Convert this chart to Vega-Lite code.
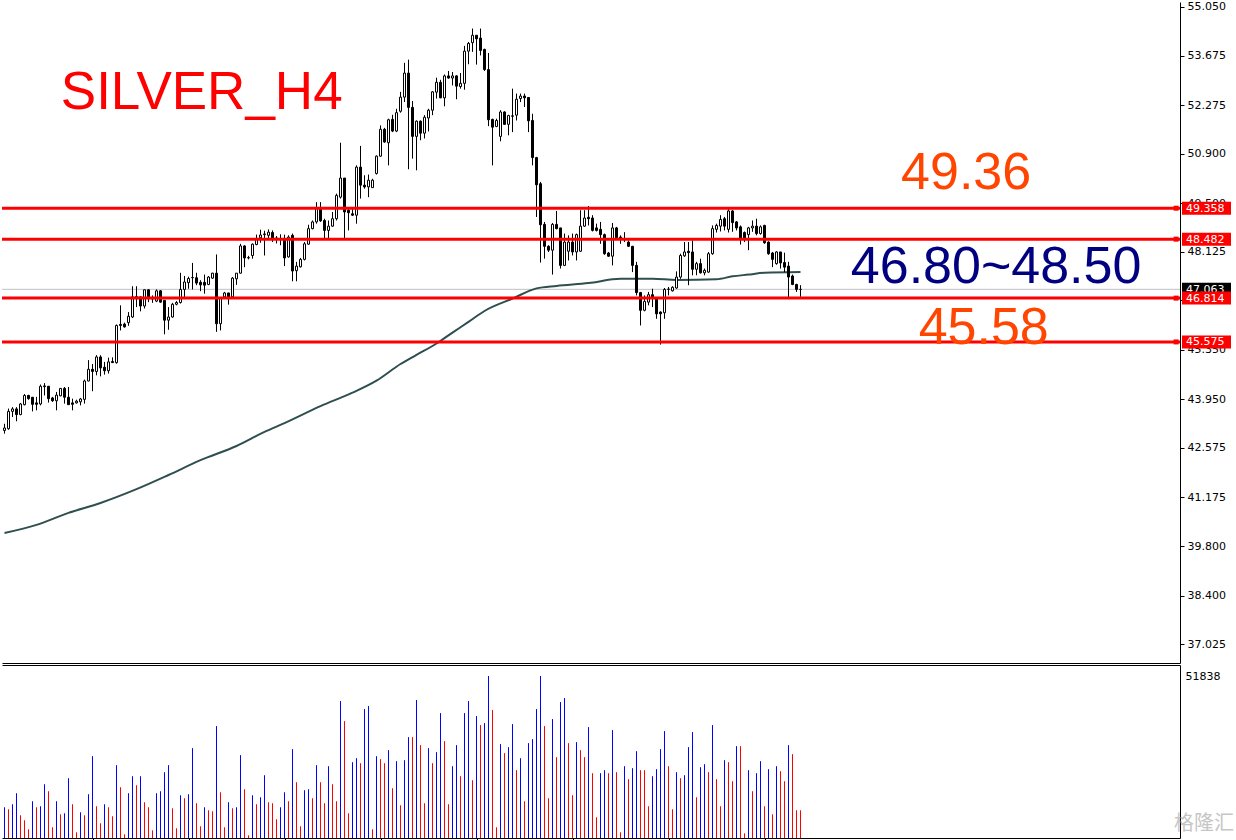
{
  "$schema": "https://vega.github.io/schema/vega-lite/v6.json",
  "padding": 0,
  "background": "#ffffff",
  "spacing": 2,
  "bounds": "flush",
  "config": {
    "view": {"stroke": null},
    "axis": {
      "labelFont": "DejaVu Sans",
      "labelFontSize": 11,
      "labelColor": "#000000",
      "domainColor": "#000000",
      "tickColor": "#000000",
      "grid": false,
      "zindex": 0,
      "labelFlush": false,
      "labelOverlap": false
    }
  },
  "datasets": {
    "candles": [
      {"k":0,"o":43.07,"h":43.26,"l":42.98,"c":43.14},
      {"k":1,"o":43.12,"h":43.69,"l":43.09,"c":43.61},
      {"k":2,"o":43.61,"h":43.73,"l":43.45,"c":43.68},
      {"k":3,"o":43.68,"h":43.73,"l":43.33,"c":43.52},
      {"k":4,"o":43.52,"h":43.85,"l":43.50,"c":43.82},
      {"k":5,"o":43.80,"h":44.10,"l":43.78,"c":44.06},
      {"k":6,"o":44.06,"h":44.08,"l":43.94,"c":43.97},
      {"k":7,"o":44.01,"h":44.01,"l":43.61,"c":43.81},
      {"k":8,"o":43.85,"h":44.02,"l":43.64,"c":43.81},
      {"k":9,"o":43.82,"h":44.37,"l":43.78,"c":44.32},
      {"k":10,"o":44.33,"h":44.41,"l":44.06,"c":44.31},
      {"k":11,"o":44.32,"h":44.33,"l":43.86,"c":43.97},
      {"k":12,"o":43.99,"h":44.02,"l":43.88,"c":43.91},
      {"k":13,"o":43.91,"h":44.16,"l":43.64,"c":44.07},
      {"k":14,"o":44.05,"h":44.26,"l":44.04,"c":44.26},
      {"k":15,"o":44.26,"h":44.30,"l":43.83,"c":44.01},
      {"k":16,"o":44.01,"h":44.30,"l":43.80,"c":43.80},
      {"k":17,"o":43.85,"h":43.97,"l":43.64,"c":43.81},
      {"k":18,"o":43.85,"h":43.94,"l":43.83,"c":43.90},
      {"k":19,"o":43.88,"h":43.99,"l":43.78,"c":43.96},
      {"k":20,"o":43.95,"h":44.51,"l":43.83,"c":44.47},
      {"k":21,"o":44.47,"h":45.06,"l":44.46,"c":44.80},
      {"k":22,"o":44.80,"h":44.95,"l":44.18,"c":44.74},
      {"k":23,"o":44.74,"h":45.20,"l":44.63,"c":45.15},
      {"k":24,"o":45.15,"h":45.20,"l":44.60,"c":44.84},
      {"k":25,"o":44.86,"h":45.01,"l":44.65,"c":44.76},
      {"k":26,"o":44.76,"h":45.13,"l":44.68,"c":45.01},
      {"k":27,"o":45.02,"h":45.14,"l":44.98,"c":44.99},
      {"k":28,"o":44.99,"h":46.07,"l":44.96,"c":46.04},
      {"k":29,"o":46.07,"h":46.61,"l":45.90,"c":46.04},
      {"k":30,"o":46.08,"h":46.12,"l":45.98,"c":46.00},
      {"k":31,"o":46.12,"h":46.42,"l":46.03,"c":46.30},
      {"k":32,"o":46.28,"h":47.15,"l":46.25,"c":46.85},
      {"k":33,"o":46.80,"h":47.15,"l":46.56,"c":46.86},
      {"k":34,"o":46.85,"h":46.85,"l":46.44,"c":46.59},
      {"k":35,"o":46.59,"h":47.06,"l":46.52,"c":47.05},
      {"k":36,"o":47.05,"h":47.06,"l":46.70,"c":46.80},
      {"k":37,"o":46.81,"h":46.89,"l":46.68,"c":46.79},
      {"k":38,"o":46.73,"h":47.06,"l":46.70,"c":47.02},
      {"k":39,"o":47.02,"h":47.04,"l":46.69,"c":46.70},
      {"k":40,"o":46.75,"h":46.75,"l":45.79,"c":46.19},
      {"k":41,"o":46.19,"h":46.56,"l":45.92,"c":46.28},
      {"k":42,"o":46.28,"h":46.68,"l":46.26,"c":46.64},
      {"k":43,"o":46.64,"h":46.73,"l":46.61,"c":46.69},
      {"k":44,"o":46.69,"h":47.53,"l":46.66,"c":47.06},
      {"k":45,"o":47.06,"h":47.44,"l":46.80,"c":47.27},
      {"k":46,"o":47.25,"h":47.42,"l":47.08,"c":47.37},
      {"k":47,"o":47.39,"h":47.81,"l":47.06,"c":47.40},
      {"k":48,"o":47.39,"h":47.53,"l":47.18,"c":47.24},
      {"k":49,"o":47.26,"h":47.32,"l":47.01,"c":47.19},
      {"k":50,"o":47.26,"h":47.48,"l":46.94,"c":47.18},
      {"k":51,"o":47.20,"h":47.44,"l":47.18,"c":47.41},
      {"k":52,"o":47.38,"h":47.53,"l":47.36,"c":47.52},
      {"k":53,"o":47.52,"h":48.05,"l":45.86,"c":46.09},
      {"k":54,"o":46.09,"h":46.83,"l":45.90,"c":46.83},
      {"k":55,"o":46.85,"h":46.99,"l":46.83,"c":46.96},
      {"k":56,"o":46.96,"h":46.96,"l":46.63,"c":46.85},
      {"k":57,"o":46.85,"h":47.41,"l":46.83,"c":47.38},
      {"k":58,"o":47.36,"h":47.52,"l":47.19,"c":47.52},
      {"k":59,"o":47.52,"h":48.35,"l":47.51,"c":48.29},
      {"k":60,"o":48.29,"h":48.31,"l":47.69,"c":47.95},
      {"k":61,"o":47.95,"h":48.01,"l":47.91,"c":47.96},
      {"k":62,"o":48.02,"h":48.36,"l":47.93,"c":48.34},
      {"k":63,"o":48.33,"h":48.61,"l":48.31,"c":48.50},
      {"k":64,"o":48.52,"h":48.75,"l":48.38,"c":48.60},
      {"k":65,"o":48.61,"h":48.72,"l":48.02,"c":48.63},
      {"k":66,"o":48.59,"h":48.76,"l":48.48,"c":48.68},
      {"k":67,"o":48.67,"h":48.73,"l":48.40,"c":48.50},
      {"k":68,"o":48.51,"h":48.57,"l":48.36,"c":48.51},
      {"k":69,"o":48.50,"h":48.62,"l":48.31,"c":48.49},
      {"k":70,"o":48.50,"h":48.61,"l":47.72,"c":47.95},
      {"k":71,"o":47.98,"h":48.59,"l":47.96,"c":48.54},
      {"k":72,"o":48.59,"h":48.64,"l":47.29,"c":47.58},
      {"k":73,"o":47.59,"h":47.84,"l":47.29,"c":47.72},
      {"k":74,"o":47.70,"h":47.95,"l":47.68,"c":47.91},
      {"k":75,"o":47.91,"h":48.40,"l":47.88,"c":48.35},
      {"k":76,"o":48.34,"h":48.89,"l":48.33,"c":48.78},
      {"k":77,"o":48.78,"h":49.01,"l":48.76,"c":48.97},
      {"k":78,"o":48.97,"h":49.53,"l":48.92,"c":49.35},
      {"k":79,"o":49.35,"h":49.53,"l":48.97,"c":49.00},
      {"k":80,"o":49.01,"h":49.06,"l":48.50,"c":48.73},
      {"k":81,"o":48.73,"h":49.01,"l":48.50,"c":48.85},
      {"k":82,"o":48.85,"h":49.25,"l":48.83,"c":49.06},
      {"k":83,"o":49.06,"h":49.77,"l":49.01,"c":49.72},
      {"k":84,"o":49.67,"h":51.21,"l":49.63,"c":50.21},
      {"k":85,"o":50.21,"h":50.21,"l":48.50,"c":49.25},
      {"k":86,"o":49.30,"h":49.35,"l":48.73,"c":49.23},
      {"k":87,"o":49.20,"h":49.35,"l":49.14,"c":49.16},
      {"k":88,"o":49.16,"h":50.57,"l":48.92,"c":50.52},
      {"k":89,"o":50.52,"h":51.12,"l":49.63,"c":50.01},
      {"k":90,"o":50.01,"h":50.29,"l":49.91,"c":49.96},
      {"k":91,"o":49.96,"h":50.31,"l":49.67,"c":50.15},
      {"k":92,"o":49.94,"h":50.19,"l":49.94,"c":50.15},
      {"k":93,"o":50.34,"h":50.85,"l":50.31,"c":50.83},
      {"k":94,"o":50.83,"h":51.70,"l":50.81,"c":51.59},
      {"k":95,"o":51.59,"h":51.63,"l":51.21,"c":51.23},
      {"k":96,"o":51.21,"h":51.89,"l":50.57,"c":51.86},
      {"k":97,"o":51.87,"h":52.00,"l":51.51,"c":51.54},
      {"k":98,"o":51.54,"h":52.17,"l":51.51,"c":52.06},
      {"k":99,"o":52.10,"h":52.65,"l":52.06,"c":52.50},
      {"k":100,"o":52.50,"h":53.47,"l":52.36,"c":53.18},
      {"k":101,"o":53.18,"h":53.56,"l":50.46,"c":52.21},
      {"k":102,"o":52.21,"h":52.39,"l":50.76,"c":51.39},
      {"k":103,"o":51.39,"h":51.84,"l":50.43,"c":51.82},
      {"k":104,"o":51.82,"h":51.84,"l":51.28,"c":51.48},
      {"k":105,"o":51.48,"h":51.99,"l":51.33,"c":51.93},
      {"k":106,"o":51.91,"h":52.17,"l":51.53,"c":52.13},
      {"k":107,"o":52.13,"h":52.67,"l":51.99,"c":52.65},
      {"k":108,"o":52.64,"h":53.05,"l":52.46,"c":52.92},
      {"k":109,"o":52.92,"h":52.99,"l":52.47,"c":52.48},
      {"k":110,"o":52.48,"h":53.14,"l":52.24,"c":53.10},
      {"k":111,"o":53.10,"h":53.24,"l":53.02,"c":53.04},
      {"k":112,"o":53.04,"h":53.21,"l":52.83,"c":53.10},
      {"k":113,"o":53.10,"h":53.12,"l":52.44,"c":52.81},
      {"k":114,"o":52.80,"h":53.18,"l":52.74,"c":52.89},
      {"k":115,"o":52.89,"h":53.95,"l":52.71,"c":53.80},
      {"k":116,"o":53.80,"h":54.06,"l":53.43,"c":54.02},
      {"k":117,"o":54.04,"h":54.44,"l":53.78,"c":54.25},
      {"k":118,"o":54.25,"h":54.25,"l":53.42,"c":54.15},
      {"k":119,"o":54.17,"h":54.44,"l":53.68,"c":53.82},
      {"k":120,"o":53.85,"h":53.87,"l":53.24,"c":53.28},
      {"k":121,"o":53.28,"h":53.75,"l":51.68,"c":51.86},
      {"k":122,"o":51.87,"h":51.89,"l":50.57,"c":51.65},
      {"k":123,"o":51.67,"h":51.89,"l":51.65,"c":51.84},
      {"k":124,"o":51.39,"h":52.13,"l":51.25,"c":52.08},
      {"k":125,"o":52.08,"h":52.10,"l":51.72,"c":51.73},
      {"k":126,"o":51.73,"h":52.00,"l":51.42,"c":51.98},
      {"k":127,"o":51.97,"h":52.74,"l":51.51,"c":51.96},
      {"k":128,"o":51.99,"h":52.60,"l":51.84,"c":52.44},
      {"k":129,"o":52.46,"h":52.60,"l":52.36,"c":52.53},
      {"k":130,"o":52.53,"h":52.60,"l":52.22,"c":52.48},
      {"k":131,"o":52.49,"h":52.50,"l":51.51,"c":51.83},
      {"k":132,"o":51.84,"h":52.03,"l":50.57,"c":50.79},
      {"k":133,"o":50.79,"h":50.81,"l":49.11,"c":50.02},
      {"k":134,"o":50.05,"h":50.10,"l":47.82,"c":48.89},
      {"k":135,"o":48.90,"h":48.97,"l":47.93,"c":48.28},
      {"k":136,"o":48.28,"h":48.31,"l":48.12,"c":48.17},
      {"k":137,"o":48.17,"h":48.94,"l":47.48,"c":48.90},
      {"k":138,"o":48.90,"h":49.28,"l":48.76,"c":48.78},
      {"k":139,"o":48.80,"h":48.80,"l":47.65,"c":47.74},
      {"k":140,"o":47.74,"h":48.64,"l":47.72,"c":48.40},
      {"k":141,"o":48.14,"h":48.59,"l":47.88,"c":48.40},
      {"k":142,"o":48.40,"h":48.64,"l":48.02,"c":48.12},
      {"k":143,"o":48.12,"h":48.64,"l":47.88,"c":48.61},
      {"k":144,"o":48.14,"h":49.30,"l":48.12,"c":48.85},
      {"k":145,"o":48.85,"h":49.30,"l":48.83,"c":49.08},
      {"k":146,"o":49.10,"h":49.42,"l":48.87,"c":49.06},
      {"k":147,"o":49.08,"h":49.16,"l":48.70,"c":48.73},
      {"k":148,"o":48.80,"h":48.92,"l":48.70,"c":48.73},
      {"k":149,"o":48.76,"h":48.97,"l":48.35,"c":48.61},
      {"k":150,"o":48.61,"h":48.64,"l":48.04,"c":48.07},
      {"k":151,"o":48.09,"h":48.12,"l":47.98,"c":48.00},
      {"k":152,"o":48.00,"h":48.94,"l":47.74,"c":48.80},
      {"k":153,"o":48.80,"h":48.83,"l":48.50,"c":48.52},
      {"k":154,"o":48.54,"h":48.59,"l":48.35,"c":48.50},
      {"k":155,"o":48.47,"h":48.68,"l":48.40,"c":48.47},
      {"k":156,"o":48.40,"h":48.45,"l":48.26,"c":48.28},
      {"k":157,"o":48.28,"h":48.29,"l":47.55,"c":47.74},
      {"k":158,"o":47.74,"h":47.84,"l":46.89,"c":46.97},
      {"k":159,"o":46.97,"h":46.99,"l":46.04,"c":46.47},
      {"k":160,"o":46.47,"h":46.89,"l":46.44,"c":46.72},
      {"k":161,"o":46.70,"h":46.99,"l":46.61,"c":46.91},
      {"k":162,"o":46.91,"h":47.08,"l":46.56,"c":46.82},
      {"k":163,"o":46.80,"h":46.82,"l":46.23,"c":46.37},
      {"k":164,"o":46.42,"h":46.44,"l":45.50,"c":46.37},
      {"k":165,"o":46.40,"h":47.10,"l":46.23,"c":47.06},
      {"k":166,"o":47.06,"h":47.13,"l":46.89,"c":47.07},
      {"k":167,"o":47.02,"h":47.15,"l":47.00,"c":47.12},
      {"k":168,"o":47.10,"h":47.57,"l":47.08,"c":47.41},
      {"k":169,"o":47.41,"h":48.07,"l":47.36,"c":48.02},
      {"k":170,"o":48.01,"h":48.40,"l":47.98,"c":48.12},
      {"k":171,"o":48.14,"h":48.40,"l":47.18,"c":48.10},
      {"k":172,"o":48.12,"h":48.45,"l":47.46,"c":47.63},
      {"k":173,"o":47.63,"h":47.84,"l":47.46,"c":47.79},
      {"k":174,"o":47.79,"h":47.93,"l":47.51,"c":47.53},
      {"k":175,"o":47.53,"h":47.65,"l":47.46,"c":47.60},
      {"k":176,"o":47.55,"h":48.12,"l":47.53,"c":48.07},
      {"k":177,"o":48.07,"h":48.87,"l":48.04,"c":48.78},
      {"k":178,"o":48.76,"h":48.92,"l":48.67,"c":48.87},
      {"k":179,"o":48.85,"h":49.16,"l":48.70,"c":49.04},
      {"k":180,"o":49.06,"h":49.11,"l":48.73,"c":48.85},
      {"k":181,"o":48.76,"h":49.34,"l":48.67,"c":49.28},
      {"k":182,"o":49.28,"h":49.30,"l":48.69,"c":48.95},
      {"k":183,"o":48.97,"h":48.99,"l":48.73,"c":48.80},
      {"k":184,"o":48.83,"h":48.87,"l":48.33,"c":48.51},
      {"k":185,"o":48.67,"h":48.70,"l":48.40,"c":48.51},
      {"k":186,"o":48.61,"h":48.83,"l":48.17,"c":48.80},
      {"k":187,"o":48.80,"h":49.01,"l":48.69,"c":48.85},
      {"k":188,"o":48.85,"h":49.06,"l":48.59,"c":48.64},
      {"k":189,"o":48.64,"h":48.87,"l":48.61,"c":48.83},
      {"k":190,"o":48.87,"h":48.89,"l":48.35,"c":48.38},
      {"k":191,"o":48.40,"h":48.42,"l":48.04,"c":48.07},
      {"k":192,"o":48.09,"h":48.12,"l":47.69,"c":47.91},
      {"k":193,"o":47.79,"h":48.14,"l":47.76,"c":48.12},
      {"k":194,"o":48.12,"h":48.12,"l":47.65,"c":47.81},
      {"k":195,"o":47.82,"h":48.10,"l":47.55,"c":47.69},
      {"k":196,"o":47.72,"h":47.84,"l":46.82,"c":47.41},
      {"k":197,"o":47.44,"h":47.48,"l":47.18,"c":47.20},
      {"k":198,"o":47.20,"h":47.22,"l":46.99,"c":47.06},
      {"k":199,"o":47.06,"h":47.18,"l":46.85,"c":47.063}
    ],
    "ma": [
      {"k":0,"ma":40.17},{"k":8,"ma":40.40},{"k":16,"ma":40.74},{"k":24,"ma":41.02},
      {"k":33,"ma":41.41},{"k":41,"ma":41.81},{"k":49,"ma":42.23},{"k":58,"ma":42.63},
      {"k":65,"ma":43.03},{"k":70,"ma":43.28},{"k":79,"ma":43.76},{"k":87,"ma":44.14},
      {"k":93,"ma":44.48},{"k":99,"ma":44.95},{"k":103,"ma":45.21},{"k":108,"ma":45.53},
      {"k":112,"ma":45.84},{"k":116,"ma":46.14},{"k":120,"ma":46.45},{"k":127,"ma":46.80},
      {"k":133,"ma":47.09},{"k":138,"ma":47.16},{"k":146,"ma":47.24},{"k":154,"ma":47.36},
      {"k":162,"ma":47.36},{"k":168,"ma":47.33},{"k":178,"ma":47.35},{"k":182,"ma":47.43},
      {"k":186,"ma":47.48},{"k":190,"ma":47.53},{"k":199,"ma":47.55}
    ],
    "levels": [{"p":49.358},{"p":48.482},{"p":46.814},{"p":45.575}],
    "current": [{"p":47.063}],
    "vol": [
      {"k":0,"v":9833,"dir":"up"},{"k":1,"v":9192,"dir":"down"},{"k":2,"v":10795,"dir":"up"},{"k":3,"v":14322,"dir":"up"},
      {"k":4,"v":7268,"dir":"down"},{"k":5,"v":5665,"dir":"down"},{"k":6,"v":2779,"dir":"down"},{"k":7,"v":11757,"dir":"up"},
      {"k":8,"v":9833,"dir":"down"},{"k":9,"v":10154,"dir":"up"},{"k":10,"v":17208,"dir":"up"},{"k":11,"v":14963,"dir":"down"},
      {"k":12,"v":3420,"dir":"down"},{"k":13,"v":11757,"dir":"up"},{"k":14,"v":7588,"dir":"down"},{"k":15,"v":7909,"dir":"up"},
      {"k":16,"v":19132,"dir":"up"},{"k":17,"v":10795,"dir":"down"},{"k":18,"v":1817,"dir":"down"},{"k":19,"v":8230,"dir":"up"},
      {"k":20,"v":7268,"dir":"down"},{"k":21,"v":14001,"dir":"up"},{"k":22,"v":26186,"dir":"up"},{"k":23,"v":10154,"dir":"down"},
      {"k":24,"v":4703,"dir":"down"},{"k":25,"v":10795,"dir":"up"},{"k":26,"v":9833,"dir":"down"},{"k":27,"v":6947,"dir":"down"},
      {"k":28,"v":23300,"dir":"up"},{"k":29,"v":16246,"dir":"down"},{"k":30,"v":1176,"dir":"down"},{"k":31,"v":14322,"dir":"up"},
      {"k":32,"v":19773,"dir":"up"},{"k":33,"v":16887,"dir":"down"},{"k":34,"v":19773,"dir":"up"},{"k":35,"v":11436,"dir":"down"},
      {"k":36,"v":9833,"dir":"down"},{"k":37,"v":2458,"dir":"down"},{"k":38,"v":14322,"dir":"up"},{"k":39,"v":14963,"dir":"up"},
      {"k":40,"v":21055,"dir":"up"},{"k":41,"v":23300,"dir":"up"},{"k":42,"v":9512,"dir":"down"},{"k":43,"v":3100,"dir":"down"},
      {"k":44,"v":13681,"dir":"up"},{"k":45,"v":12719,"dir":"down"},{"k":46,"v":14001,"dir":"up"},{"k":47,"v":28751,"dir":"up"},
      {"k":48,"v":11116,"dir":"down"},{"k":49,"v":3741,"dir":"down"},{"k":50,"v":9833,"dir":"up"},{"k":51,"v":8871,"dir":"down"},
      {"k":52,"v":8550,"dir":"down"},{"k":53,"v":35805,"dir":"up"},{"k":54,"v":14643,"dir":"down"},{"k":55,"v":3420,"dir":"down"},
      {"k":56,"v":11436,"dir":"up"},{"k":57,"v":9512,"dir":"down"},{"k":58,"v":9833,"dir":"up"},{"k":59,"v":26506,"dir":"up"},
      {"k":60,"v":15604,"dir":"down"},{"k":61,"v":855,"dir":"down"},{"k":62,"v":13681,"dir":"up"},{"k":63,"v":10795,"dir":"down"},
      {"k":64,"v":13039,"dir":"up"},{"k":65,"v":20093,"dir":"up"},{"k":66,"v":11436,"dir":"down"},{"k":67,"v":11116,"dir":"down"},
      {"k":68,"v":5985,"dir":"down"},{"k":69,"v":9833,"dir":"up"},{"k":70,"v":14643,"dir":"up"},{"k":71,"v":11757,"dir":"down"},
      {"k":72,"v":28430,"dir":"up"},{"k":73,"v":17849,"dir":"down"},{"k":74,"v":3741,"dir":"down"},{"k":75,"v":15284,"dir":"up"},
      {"k":76,"v":15604,"dir":"up"},{"k":77,"v":12719,"dir":"down"},{"k":78,"v":23300,"dir":"up"},{"k":79,"v":17849,"dir":"down"},
      {"k":80,"v":11116,"dir":"down"},{"k":81,"v":22979,"dir":"up"},{"k":82,"v":17208,"dir":"down"},{"k":83,"v":11757,"dir":"down"},
      {"k":84,"v":43821,"dir":"up"},{"k":85,"v":37408,"dir":"down"},{"k":86,"v":7909,"dir":"down"},{"k":87,"v":24262,"dir":"up"},
      {"k":88,"v":25544,"dir":"up"},{"k":89,"v":23941,"dir":"down"},{"k":90,"v":41256,"dir":"up"},{"k":91,"v":42218,"dir":"up"},
      {"k":92,"v":2779,"dir":"down"},{"k":93,"v":26186,"dir":"up"},{"k":94,"v":25224,"dir":"down"},{"k":95,"v":23941,"dir":"down"},
      {"k":96,"v":28109,"dir":"up"},{"k":97,"v":15925,"dir":"down"},{"k":98,"v":24582,"dir":"up"},{"k":99,"v":10474,"dir":"down"},
      {"k":100,"v":24903,"dir":"up"},{"k":101,"v":32278,"dir":"up"},{"k":102,"v":32278,"dir":"down"},{"k":103,"v":44141,"dir":"up"},
      {"k":104,"v":29713,"dir":"down"},{"k":105,"v":11116,"dir":"down"},{"k":106,"v":28751,"dir":"up"},{"k":107,"v":23941,"dir":"down"},
      {"k":108,"v":27468,"dir":"up"},{"k":109,"v":39973,"dir":"up"},{"k":110,"v":30995,"dir":"down"},{"k":111,"v":10795,"dir":"down"},
      {"k":112,"v":22979,"dir":"up"},{"k":113,"v":29713,"dir":"up"},{"k":114,"v":19773,"dir":"down"},{"k":115,"v":39973,"dir":"up"},
      {"k":116,"v":43821,"dir":"up"},{"k":117,"v":18490,"dir":"down"},{"k":118,"v":39011,"dir":"up"},{"k":119,"v":36125,"dir":"down"},
      {"k":120,"v":36767,"dir":"up"},{"k":121,"v":51838,"dir":"up"},{"k":122,"v":40935,"dir":"down"},{"k":123,"v":3420,"dir":"down"},
      {"k":124,"v":30033,"dir":"up"},{"k":125,"v":27148,"dir":"down"},{"k":126,"v":29071,"dir":"up"},{"k":127,"v":36446,"dir":"up"},
      {"k":128,"v":21697,"dir":"down"},{"k":129,"v":25544,"dir":"up"},{"k":130,"v":11757,"dir":"down"},{"k":131,"v":30354,"dir":"up"},
      {"k":132,"v":31636,"dir":"up"},{"k":133,"v":41256,"dir":"up"},{"k":134,"v":51838,"dir":"up"},{"k":135,"v":35805,"dir":"down"},
      {"k":136,"v":12719,"dir":"down"},{"k":137,"v":38049,"dir":"up"},{"k":138,"v":25865,"dir":"down"},{"k":139,"v":43500,"dir":"up"},
      {"k":140,"v":44783,"dir":"up"},{"k":141,"v":30354,"dir":"down"},{"k":142,"v":13681,"dir":"down"},{"k":143,"v":30675,"dir":"up"},
      {"k":144,"v":28109,"dir":"down"},{"k":145,"v":25865,"dir":"down"},{"k":146,"v":35484,"dir":"up"},{"k":147,"v":20735,"dir":"down"},
      {"k":148,"v":6627,"dir":"down"},{"k":149,"v":20735,"dir":"up"},{"k":150,"v":21697,"dir":"up"},{"k":151,"v":20735,"dir":"down"},
      {"k":152,"v":34522,"dir":"up"},{"k":153,"v":21055,"dir":"down"},{"k":154,"v":1817,"dir":"down"},{"k":155,"v":22979,"dir":"up"},
      {"k":156,"v":18811,"dir":"down"},{"k":157,"v":22338,"dir":"up"},{"k":158,"v":27789,"dir":"up"},{"k":159,"v":21697,"dir":"down"},
      {"k":160,"v":21697,"dir":"down"},{"k":161,"v":10154,"dir":"down"},{"k":162,"v":19773,"dir":"up"},{"k":163,"v":22017,"dir":"up"},
      {"k":164,"v":28430,"dir":"up"},{"k":165,"v":34202,"dir":"up"},{"k":166,"v":22979,"dir":"down"},{"k":167,"v":9192,"dir":"down"},
      {"k":168,"v":21055,"dir":"up"},{"k":169,"v":19132,"dir":"down"},{"k":170,"v":20093,"dir":"up"},{"k":171,"v":29071,"dir":"up"},
      {"k":172,"v":33881,"dir":"up"},{"k":173,"v":13039,"dir":"down"},{"k":174,"v":22659,"dir":"up"},{"k":175,"v":23620,"dir":"up"},
      {"k":176,"v":21055,"dir":"down"},{"k":177,"v":36125,"dir":"up"},{"k":178,"v":18811,"dir":"down"},{"k":179,"v":10154,"dir":"down"},
      {"k":180,"v":24903,"dir":"up"},{"k":181,"v":24262,"dir":"down"},{"k":182,"v":18170,"dir":"down"},{"k":183,"v":29392,"dir":"up"},
      {"k":184,"v":29392,"dir":"down"},{"k":185,"v":1496,"dir":"down"},{"k":186,"v":21697,"dir":"up"},{"k":187,"v":14963,"dir":"down"},
      {"k":188,"v":20735,"dir":"up"},{"k":189,"v":24582,"dir":"up"},{"k":190,"v":10154,"dir":"down"},{"k":191,"v":22017,"dir":"up"},
      {"k":192,"v":7588,"dir":"down"},{"k":193,"v":22979,"dir":"up"},{"k":194,"v":21376,"dir":"down"},{"k":195,"v":18170,"dir":"down"},
      {"k":196,"v":29713,"dir":"up"},{"k":197,"v":26827,"dir":"down"},{"k":198,"v":8871,"dir":"down"},{"k":199,"v":8871,"dir":"down"}
    ]
  },
  "vconcat": [
    {
      "width": 1178,
      "height": 661,
      "layer": [
        {
          "data": {"name": "current"},
          "mark": {"type": "rule", "color": "#c0c0c0", "strokeWidth": 1},
          "encoding": {
            "y": {
              "field": "p", "type": "quantitative", "title": null,
              "scale": {"domain": [36.492, 55.191], "nice": false, "zero": false, "padding": 0},
              "axis": {
                "orient": "right", "title": null, "format": ".3f",
                "values": [55.05, 53.675, 52.275, 50.9, 49.5, 48.125, 46.75, 45.35, 43.95, 42.575, 41.175, 39.8, 38.4, 37.025],
                "tickSize": 4, "labelPadding": 3, "domain": true
              }
            }
          }
        },
        {
          "data": {"name": "ma"},
          "mark": {"type": "line", "color": "#2f4f4f", "strokeWidth": 2, "interpolate": "monotone"},
          "encoding": {
            "x": {
              "field": "k", "type": "quantitative", "title": null,
              "scale": {"domain": [-0.625, 293.875], "nice": false, "zero": false, "padding": 0},
              "axis": {"orient": "bottom", "title": null, "labels": false, "ticks": false, "domain": true}
            },
            "y": {"field": "ma", "type": "quantitative", "title": null}
          }
        },
        {
          "data": {"name": "candles"},
          "mark": {"type": "rule", "color": "#000000", "strokeWidth": 1},
          "encoding": {
            "x": {"field": "k", "type": "quantitative", "title": null},
            "y": {"field": "l", "type": "quantitative", "title": null},
            "y2": {"field": "h"}
          }
        },
        {
          "data": {"name": "candles"},
          "mark": {"type": "bar", "orient": "vertical", "size": 2, "stroke": "#000000", "strokeWidth": 1},
          "encoding": {
            "x": {"field": "k", "type": "quantitative", "title": null},
            "y": {"field": "o", "type": "quantitative", "title": null},
            "y2": {"field": "c"},
            "fill": {"condition": {"test": "datum.c >= datum.o", "value": "#ffffff"}, "value": "#000000"}
          }
        },
        {
          "data": {"name": "levels"},
          "mark": {"type": "rule", "color": "#ff0000", "strokeWidth": 3},
          "encoding": {"y": {"field": "p", "type": "quantitative", "title": null}}
        },
        {
          "data": {"name": "levels"},
          "mark": {"type": "point", "shape": "square", "filled": true, "color": "#ff0000", "opacity": 1, "size": 25},
          "encoding": {
            "x": {"datum": 292.9, "type": "quantitative"},
            "y": {"field": "p", "type": "quantitative", "title": null}
          }
        },
        {
          "data": {"name": "current"},
          "mark": {"type": "bar", "orient": "horizontal", "size": 13, "color": "#000000"},
          "encoding": {
            "x": {"datum": 294.375, "type": "quantitative"},
            "x2": {"datum": 306.625},
            "y": {"field": "p", "type": "quantitative", "title": null}
          }
        },
        {
          "data": {"name": "current"},
          "mark": {"type": "text", "color": "#ffffff", "font": "DejaVu Sans", "fontSize": 11, "align": "left", "baseline": "middle", "dy": 0.5},
          "encoding": {
            "x": {"datum": 295.375, "type": "quantitative"},
            "y": {"field": "p", "type": "quantitative", "title": null},
            "text": {"field": "p", "type": "quantitative", "format": ".3f"}
          }
        },
        {
          "data": {"name": "levels"},
          "mark": {"type": "bar", "orient": "horizontal", "size": 13, "color": "#ff0000"},
          "encoding": {
            "x": {"datum": 294.375, "type": "quantitative"},
            "x2": {"datum": 306.625},
            "y": {"field": "p", "type": "quantitative", "title": null}
          }
        },
        {
          "data": {"name": "levels"},
          "mark": {"type": "text", "color": "#ffffff", "font": "DejaVu Sans", "fontSize": 11, "align": "left", "baseline": "middle", "dy": 0.5},
          "encoding": {
            "x": {"datum": 295.375, "type": "quantitative"},
            "y": {"field": "p", "type": "quantitative", "title": null},
            "text": {"field": "p", "type": "quantitative", "format": ".3f"}
          }
        },
        {
          "data": {"values": [{"t": "SILVER_H4"}]},
          "mark": {"type": "text", "color": "#ff0000", "font": "Liberation Sans", "fontSize": 53, "align": "center", "baseline": "alphabetic"},
          "encoding": {
            "x": {"datum": 49.3, "type": "quantitative"},
            "y": {"datum": 52.15, "type": "quantitative"},
            "text": {"field": "t"}
          }
        },
        {
          "data": {"values": [{"t": "49.36"}]},
          "mark": {"type": "text", "color": "#ff4500", "font": "Liberation Sans", "fontSize": 52, "align": "center", "baseline": "alphabetic"},
          "encoding": {
            "x": {"datum": 240.4, "type": "quantitative"},
            "y": {"datum": 49.89, "type": "quantitative"},
            "text": {"field": "t"}
          }
        },
        {
          "data": {"values": [{"t": "46.80~48.50"}]},
          "mark": {"type": "text", "color": "#000080", "font": "Liberation Sans", "fontSize": 52, "align": "center", "baseline": "alphabetic"},
          "encoding": {
            "x": {"datum": 247.9, "type": "quantitative"},
            "y": {"datum": 47.25, "type": "quantitative"},
            "text": {"field": "t"}
          }
        },
        {
          "data": {"values": [{"t": "45.58"}]},
          "mark": {"type": "text", "color": "#ff4500", "font": "Liberation Sans", "fontSize": 52, "align": "center", "baseline": "alphabetic"},
          "encoding": {
            "x": {"datum": 244.8, "type": "quantitative"},
            "y": {"datum": 45.51, "type": "quantitative"},
            "text": {"field": "t"}
          }
        }
      ]
    },
    {
      "width": 1178,
      "height": 173,
      "data": {"name": "vol"},
      "layer": [
        {
          "mark": {"type": "rule", "strokeWidth": 1},
          "encoding": {
            "x": {
              "field": "k", "type": "quantitative", "title": null,
              "scale": {"domain": [-0.625, 293.875], "nice": false, "zero": false, "padding": 0},
              "axis": {"orient": "bottom", "title": null, "labels": false, "ticks": true, "tickSize": 5, "domain": true,
                       "values": [22, 46, 70, 94, 118, 142, 166, 190]}
            },
            "y": {
              "field": "v", "type": "quantitative", "title": null,
              "scale": {"domain": [0, 55358], "nice": false, "zero": true, "padding": 0},
              "axis": {"orient": "right", "title": null, "values": [51838], "format": "d", "ticks": false, "labelPadding": 5, "domain": true}
            },
            "y2": {"datum": 0},
            "color": {
              "field": "dir", "type": "nominal",
              "scale": {"domain": ["up", "down"], "range": ["#0000ff", "#ff0000"]},
              "legend": null
            }
          }
        },
        {
          "mark": {"type": "point", "opacity": 0},
          "encoding": {
            "x": {"field": "k", "type": "quantitative", "title": null,
                  "axis": {"orient": "top", "title": null, "labels": false, "ticks": false, "domain": true}},
            "y": {"field": "v", "type": "quantitative", "title": null}
          }
        },
        {
          "data": {"values": [{"t": "格隆汇"}]},
          "mark": {"type": "text", "color": "#8c8c8c", "opacity": 0.5, "font": "Noto Sans CJK SC", "fontSize": 20, "align": "center", "baseline": "middle"},
          "encoding": {
            "x": {"datum": 299.9, "type": "quantitative", "axis": null},
            "y": {"datum": 4500, "type": "quantitative"},
            "text": {"field": "t"}
          }
        }
      ],
      "resolve": {"axis": {"x": "independent"}}
    }
  ]
}
